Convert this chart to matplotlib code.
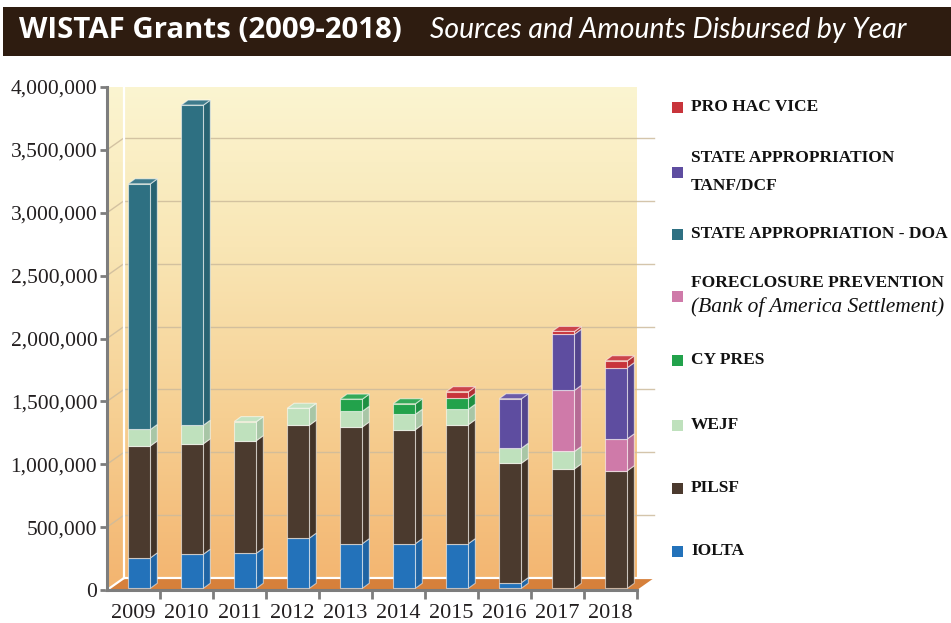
import numpy as np
import matplotlib
matplotlib.use('Agg')
import matplotlib.pyplot as plt
from matplotlib.patches import Rectangle, Polygon
from matplotlib.colors import to_rgb, LinearSegmentedColormap
import matplotlib.ticker as mticker

# ---------------- data ----------------
years = ['2009', '2010', '2011', '2012', '2013', '2014', '2015', '2016', '2017', '2018']
iolta = [242000, 271000, 279000, 399000, 355000, 355000, 355000, 45000, 0, 0]
pilsf = [890000, 878000, 895000, 898000, 928000, 906000, 946000, 949000, 949000, 935000]
wejf = [131000, 148000, 151000, 134000, 125000, 123000, 123000, 120000, 139000, 0]
cy_pres = [0, 0, 0, 0, 96000, 83000, 86000, 0, 0, 0]
foreclosure = [0, 0, 0, 0, 0, 0, 0, 0, 486000, 254000]
state_doa = [1953000, 2545000, 0, 0, 0, 0, 0, 0, 0, 0]
state_tanf = [0, 0, 0, 0, 0, 0, 0, 393000, 446000, 566000]
pro_hac = [0, 0, 0, 0, 0, 0, 53000, 0, 22000, 54000]

series = [iolta, pilsf, wejf, cy_pres, foreclosure, state_doa, state_tanf, pro_hac]
series_colors = ['#2372ba', '#4b3a2e', '#bfe1bd', '#22a24b', '#cf7aa9', '#2e7082', '#5e4da0', '#c8343b']
legend_labels = [['IOLTA'], ['PILSF'], ['WEJF'], ['CY PRES'],
                 ['FORECLOSURE PREVENTION', '(Bank of America Settlement)'],
                 ['STATE APPROPRIATION - DOA'],
                 ['STATE APPROPRIATION', 'TANF/DCF'],
                 ['PRO HAC VICE']]
yticks = [0, 500000, 1000000, 1500000, 2000000, 2500000, 3000000, 3500000, 4000000]
title_main = 'WISTAF Grants (2009-2018)'
title_sub = 'Sources and Amounts Disbursed by Year'

# ---------------- figure ----------------
W, H = 951, 623
fig = plt.figure(figsize=(W / 100, H / 100), dpi=100)
fig.patch.set_facecolor('white')

def fx(px):
    return px / W

def fy(py):
    return 1 - py / H

# title bar
fig.patches.append(Rectangle((fx(3), fy(56)), fx(948), 49 / H, transform=fig.transFigure,
                             facecolor='#2e1c10', edgecolor='none', zorder=0))
fig.text(fx(19), fy(38), title_main, color='white', fontsize=21.2, fontweight='bold',
         family='Open Sans', va='baseline', ha='left')
fig.text(fx(430), fy(38), title_sub, color='white', fontsize=20.4, style='italic',
         family='Lato', va='baseline', ha='left')

# axes
ax = fig.add_axes([fx(107), fy(590), fx(637) - fx(107), (590 - 87) / H])
ax.set_facecolor('none')
ymax = 4000000
ax.set_xlim(-0.5, 9.5)
ax.set_ylim(0, ymax)

# 3D offsets (data units)
wall_dx = 0.32
wall_dy = 95000
bar_dx = 0.13
bar_dy = 40000
bar_base = 14000
wall_right = 9.5 + wall_dx
wall_left = -0.5 + wall_dx
wall_top = ymax + wall_dy

# gradient background (back wall + side wall)
grad = LinearSegmentedColormap.from_list('g', ['#f3b46f', '#f6cf92', '#f9e6b5', '#fbf6d3'])
img = np.linspace(0, 1, 256).reshape(-1, 1)
im = ax.imshow(img, cmap=grad, origin='lower', aspect='auto',
               extent=[-0.5, wall_right, 0, wall_top], zorder=0, interpolation='bilinear')
clip_poly = Polygon([(-0.5, 0), (-0.5, ymax), (wall_left, wall_top), (wall_right, wall_top),
                     (wall_right, wall_dy), (9.5, 0)], closed=True, transform=ax.transData,
                    facecolor='none', edgecolor='none')
im.set_clip_path(clip_poly)
im.set_clip_box(None)

# gridlines on walls
for v in yticks[1:-1]:
    ax.plot([wall_left, wall_right], [v + wall_dy, v + wall_dy], color='#cdbb9c', lw=1,
            alpha=0.85, zorder=1, clip_on=False)
    ax.plot([-0.5, wall_left], [v, v + wall_dy], color='#cdbb9c', lw=1, alpha=0.85,
            zorder=1, clip_on=False)

# floor
floor = Polygon([(-0.5, 0), (9.5, 0), (wall_right, wall_dy), (wall_left, wall_dy)], closed=True,
                facecolor='#d6803b', edgecolor='none', zorder=1.5, clip_on=False)
ax.add_patch(floor)
ax.plot([wall_left, wall_right], [wall_dy, wall_dy], color='white', lw=1.6, zorder=1.6, clip_on=False)
ax.plot([-0.5, wall_left], [0, wall_dy], color='white', lw=1.6, zorder=1.6, clip_on=False)
ax.plot([wall_left, wall_left], [wall_dy, wall_top], color='white', lw=1.6, zorder=1.6, clip_on=False)

# bars
xpos = np.arange(len(years))
bar_w = 0.42
bar_left = xpos - 0.5 + 0.40
edge = (1, 1, 1, 0.55)

def shade(c, f):
    r, g, b = to_rgb(c)
    if f < 1:
        return (r * f, g * f, b * f)
    return (r + (1 - r) * (f - 1), g + (1 - g) * (f - 1), b + (1 - b) * (f - 1))

bottoms = np.full(len(years), float(bar_base))
tops_color = [None] * len(years)
for vals, col in zip(series, series_colors):
    vals = np.array(vals, dtype=float)
    mask = vals > 0
    ax.bar(bar_left[mask], vals[mask], width=bar_w, bottom=bottoms[mask], align='edge',
           color=col, edgecolor=edge, linewidth=0.8, zorder=4)
    for i in np.where(mask)[0]:
        xr = bar_left[i] + bar_w
        b = bottoms[i]
        t = b + vals[i]
        ax.add_patch(Polygon([(xr, b), (xr + bar_dx, b + bar_dy), (xr + bar_dx, t + bar_dy), (xr, t)],
                             closed=True, facecolor=shade(col, 0.88), edgecolor=edge,
                             linewidth=0.8, zorder=3.5))
        tops_color[i] = col
    bottoms = bottoms + vals

for i in range(len(years)):
    xl = bar_left[i]
    xr = xl + bar_w
    t = bottoms[i]
    ax.add_patch(Polygon([(xl, t), (xl + bar_dx, t + bar_dy), (xr + bar_dx, t + bar_dy), (xr, t)],
                         closed=True, facecolor=shade(tops_color[i], 1.08), edgecolor=edge,
                         linewidth=0.8, zorder=3.6, clip_on=False))

# axes styling
for s in ['top', 'right']:
    ax.spines[s].set_visible(False)
for s in ['left', 'bottom']:
    ax.spines[s].set_color('#7d7d7d')
    ax.spines[s].set_linewidth(2.2)
    ax.spines[s].set_zorder(5)

ax.set_yticks(yticks)
ax.yaxis.set_major_formatter(mticker.FuncFormatter(lambda v, p: '{:,.0f}'.format(v)))
ax.tick_params(axis='y', direction='out', length=5, width=2, color='#7d7d7d', pad=2,
               labelsize=15.5, labelcolor='#231f20')
ax.set_xticks(np.arange(len(years) + 1)[1:] - 0.5)
ax.set_xticklabels([])
ax.set_xticks(xpos, minor=True)
ax.set_xticklabels(years, minor=True)
ax.tick_params(axis='x', which='major', direction='out', length=6.5, width=2, color='#7d7d7d')
ax.tick_params(axis='x', which='minor', length=0, pad=10, labelsize=16, labelcolor='#231f20')
for lab in ax.get_yticklabels() + ax.get_xticklabels(minor=True):
    lab.set_family('Liberation Serif')

# legend
leg_y = [551, 488, 425, 360, [283, 307], 234, [158, 186], 107]
sq_y = [551, 488, 425, 360, 296, 234, 172, 107]
for lbl, ly, sy, col in zip(legend_labels, leg_y, sq_y, series_colors):
    fig.patches.append(Rectangle((fx(672), fy(sy + 5.5)), fx(11), 11 / H, transform=fig.transFigure,
                                 facecolor=col, edgecolor='none'))
    ys = ly if isinstance(ly, list) else [ly]
    for k, (line, yy) in enumerate(zip(lbl, ys)):
        italic = line.startswith('(')
        fig.text(fx(691), fy(yy), line, family='Liberation Serif',
                 fontsize=15.5 if italic else 12.5,
                 fontweight='normal' if italic else 'bold', style='italic' if italic else 'normal',
                 color='#111111', va='center', ha='left')

fig.savefig('out.png', dpi=100)
